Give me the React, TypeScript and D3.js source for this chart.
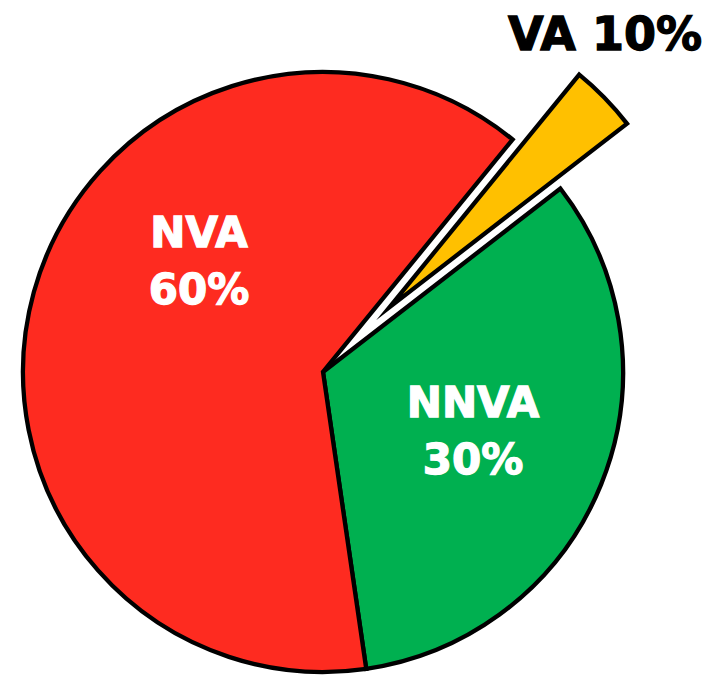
import React, { useEffect, useRef } from 'react';
import * as d3 from 'd3';

// slice order as drawn clockwise from the start angle
const categories = ['VA', 'NNVA', 'NVA'];
const shares = [3.64, 33.17, 63.19]; // angular share
const percentLabels = ['10%', '30%', '60%'];
const colors = ['#FFC000', '#00B050', '#FE2B20'];
const explode = [93, 0, 0];

export default function App() {
  const ref = useRef<SVGSVGElement>(null);

  useEffect(() => {
    if (!ref.current) return;
    const svg = d3.select(ref.current);
    svg.selectAll('*').remove();

    const cx = 323;
    const cy = 372;
    const radius = 300;

    const pie = d3.pie<number>()
      .sort(null)
      .value(d => d)
      .startAngle((39.2 * Math.PI) / 180)
      .endAngle((39.2 * Math.PI) / 180 + 2 * Math.PI);

    const arcs = pie(shares);
    const arc = d3.arc<d3.PieArcDatum<number>>().innerRadius(0).outerRadius(radius);

    const g = svg.append('g').attr('transform', `translate(${cx},${cy})`);

    g.selectAll('path')
      .data(arcs)
      .enter()
      .append('path')
      .attr('d', d => arc(d)!)
      .attr('transform', (d, i) => {
        const mid = (d.startAngle + d.endAngle) / 2;
        const off = explode[i];
        return `translate(${Math.sin(mid) * off},${-Math.cos(mid) * off})`;
      })
      .attr('fill', (d, i) => colors[i])
      .attr('stroke', '#000')
      .attr('stroke-width', 4.3)
      .attr('stroke-linejoin', 'miter')
      .attr('stroke-miterlimit', 10);

    // label placement relative to pie center
    const labelPos = [
      { dx: 282, dy: -322, fill: '#000', inside: false },
      { dx: 150, dy: 45, fill: '#fff', inside: true },
      { dx: -124, dy: -125, fill: '#fff', inside: true },
    ];

    categories.forEach((c, i) => {
      const p = labelPos[i];
      if (p.inside) {
        const t = g.append('text')
          .attr('x', p.dx)
          .attr('y', p.dy)
          .attr('text-anchor', 'middle')
          .attr('fill', p.fill)
          .attr('stroke', p.fill)
          .attr('stroke-width', 1.3)
          .style('font-family', '"DejaVu Sans", Verdana, sans-serif')
          .style('font-weight', 'bold')
          .style('font-size', '42px');
        t.append('tspan').attr('x', p.dx).text(c);
        t.append('tspan').attr('x', p.dx).attr('dy', 57).text(percentLabels[i]);
      } else {
        g.append('text')
          .attr('x', p.dx)
          .attr('y', p.dy)
          .attr('text-anchor', 'middle')
          .attr('fill', p.fill)
          .attr('stroke', p.fill)
          .attr('stroke-width', 1.3)
          .style('font-family', '"DejaVu Sans", Verdana, sans-serif')
          .style('font-weight', 'bold')
          .style('font-size', '46px')
          .text(`${c} ${percentLabels[i]}`);
      }
    });
  }, []);

  return (
    <svg
      ref={ref}
      width={710}
      height={676}
      style={{ position: 'absolute', left: 0, top: 0, background: '#fff' }}
    />
  );
}
